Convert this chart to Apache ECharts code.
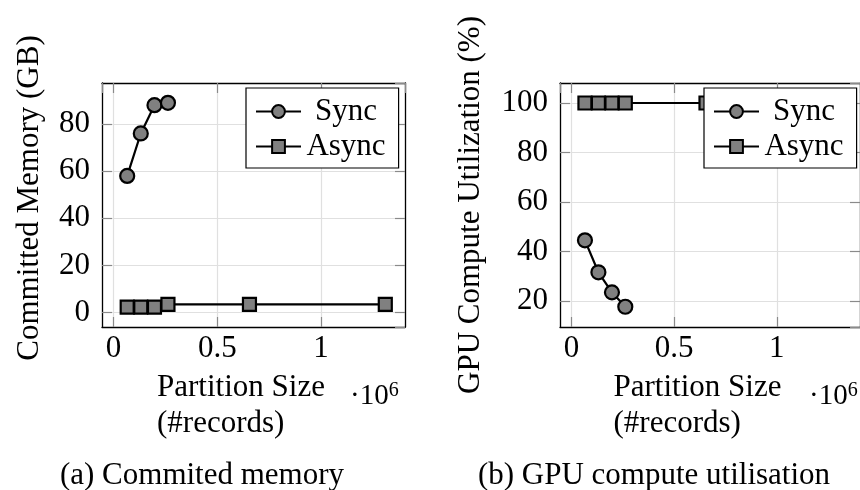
<!DOCTYPE html>
<html>
<head>
<meta charset="utf-8">
<script src="https://cdn.jsdelivr.net/npm/echarts@6/dist/echarts.min.js"></script>
<style>
  html, body { margin: 0; padding: 0; background: #fff; }
  #chart { width: 860px; height: 490px; }
</style>
</head>
<body>
<div id="chart"></div>
<script>
// Partition size, in units of 10^6 records
const partitionSizes = [0.0655, 0.131, 0.197, 0.262, 0.655, 1.31];
const seriesNames = ['Sync', 'Async'];
// (a) Committed memory (GB)
const memSync = [58, 76, 88, 89];
const memAsync = [2.4, 2.4, 2.4, 3.5, 3.5, 3.5];
// (b) GPU compute utilisation (%)
const gpuSync = [44.6, 31.7, 23.6, 17.8];
const gpuAsync = [100, 100, 100, 100, 100, 100];
const captions = ['(a) Commited memory', '(b) GPU compute utilisation'];
const yTitles = ['Committed Memory (GB)', 'GPU Compute Utilization (%)'];
const xTitleLines = ['Partition Size', '(#records)'];

const FONT = '"Liberation Serif", "Times New Roman", serif';
const FS = 31;

function pairs(xs, ys) { return ys.map((y, i) => [xs[i], y]); }

const grids = [
  { left: 102, top: 83, width: 303, height: 244 },
  { left: 560, top: 83, width: 303, height: 244 }
];
const xRange = [[-0.056, 1.405], [-0.056, 1.405]];
const yRange = [[-6.07, 97.4], [9.63, 108.07]];
const yNameGap = [57, 74];
const yNamePad = [[0, 0, 0, 14], [0, 0, 0, 0]];

const tickStyle = { show: true, inside: true, length: 10, lineStyle: { color: '#8a8a8a', width: 1.2 } };
const axisLineStyle = { show: true, onZero: false, lineStyle: { color: '#000', width: 1.3 } };
const splitStyle = { show: true, lineStyle: { color: '#e0e0e0', width: 1.2 } };

const xAxes = [], yAxes = [];
grids.forEach((g, i) => {
  xAxes.push({
    gridIndex: i, type: 'value', position: 'bottom',
    min: xRange[i][0], max: xRange[i][1], minInterval: 0.5, maxInterval: 0.5,
    axisLine: axisLineStyle, axisTick: tickStyle, splitLine: splitStyle,
    axisLabel: { showMinLabel: false, showMaxLabel: false, margin: 6,
      fontFamily: FONT, fontSize: FS, color: '#000' },
    name: '{a|' + xTitleLines[0] + '}\n{a|' + xTitleLines[1] + '}',
    nameLocation: 'middle', nameGap: 43,
    nameTextStyle: { fontFamily: FONT, fontSize: FS, color: '#000', lineHeight: 36,
      rich: { a: { width: 193, align: 'left', fontFamily: FONT, fontSize: FS, lineHeight: 36, color: '#000' } } }
  });
  xAxes.push({
    gridIndex: i, type: 'value', position: 'top',
    min: xRange[i][0], max: xRange[i][1], minInterval: 0.5, maxInterval: 0.5,
    axisLine: axisLineStyle, axisTick: tickStyle, splitLine: { show: false },
    axisLabel: { show: false }
  });
  yAxes.push({
    gridIndex: i, type: 'value', position: 'left',
    min: yRange[i][0], max: yRange[i][1], minInterval: 20, maxInterval: 20,
    axisLine: axisLineStyle, axisTick: tickStyle, splitLine: splitStyle,
    axisLabel: { showMinLabel: false, showMaxLabel: false, margin: 12,
      fontFamily: FONT, fontSize: FS, color: '#000' },
    name: yTitles[i], nameLocation: 'middle', nameRotate: 90, nameGap: yNameGap[i],
    nameTextStyle: { fontFamily: FONT, fontSize: FS, color: '#000', padding: yNamePad[i] }
  });
  yAxes.push({
    gridIndex: i, type: 'value', position: 'right',
    min: yRange[i][0], max: yRange[i][1], minInterval: 20, maxInterval: 20,
    axisLine: axisLineStyle, axisTick: tickStyle, splitLine: { show: false },
    axisLabel: { show: false }
  });
});

function mkSeries(name, data, gi, symbol, size) {
  return {
    name: name, type: 'line', data: data,
    xAxisIndex: gi * 2, yAxisIndex: gi * 2,
    symbol: symbol, symbolSize: size,
    lineStyle: { color: '#000', width: 2.2 },
    itemStyle: { color: '#808080', borderColor: '#000', borderWidth: 2.2 },
    emphasis: { disabled: true },
    animation: false, z: 3
  };
}

const series = [
  mkSeries(seriesNames[0], pairs(partitionSizes, memSync), 0, 'circle', 14),
  mkSeries(seriesNames[1], pairs(partitionSizes, memAsync), 0, 'rect', 13),
  mkSeries(seriesNames[0], pairs(partitionSizes, gpuSync), 1, 'circle', 14),
  mkSeries(seriesNames[1], pairs(partitionSizes, gpuAsync), 1, 'rect', 13)
];

function mkLegend(left) {
  return {
    left: left, top: 88, orient: 'vertical',
    data: seriesNames,
    itemWidth: 45, itemHeight: 16, itemGap: 4,
    padding: [8, 13, 6, 9],
    backgroundColor: '#fff', borderColor: '#000', borderWidth: 1.2,
    selectedMode: false,
    formatter: n => '{t|' + n + '}',
    textStyle: { fontFamily: FONT, fontSize: FS, color: '#000',
      rich: { t: { width: 80, align: 'center', fontFamily: FONT, fontSize: FS, color: '#000' } } }
  };
}

function scaleLabel(left) {
  return { type: 'text', left: left, top: 381,
    style: { text: '{a|·10}{b|6}', rich: {
      a: { fontFamily: FONT, fontSize: 29, color: '#000', verticalAlign: 'bottom' },
      b: { fontFamily: FONT, fontSize: 20, color: '#000', verticalAlign: 'top', padding: [0, 0, 10, 0] } } } };
}

const option = {
  backgroundColor: '#fff',
  animation: false,
  textStyle: { fontFamily: FONT },
  grid: grids,
  xAxis: xAxes,
  yAxis: yAxes,
  legend: [mkLegend(246), mkLegend(704)],
  title: [
    { text: captions[0], left: 202, top: 459, textAlign: 'center', padding: 0,
      textStyle: { fontFamily: FONT, fontSize: FS, fontWeight: 'normal', color: '#000', lineHeight: 34 } },
    { text: captions[1], left: 654, top: 459, textAlign: 'center', padding: 0,
      textStyle: { fontFamily: FONT, fontSize: FS, fontWeight: 'normal', color: '#000', lineHeight: 34 } }
  ],
  graphic: [scaleLabel(350), scaleLabel(809)],
  series: series
};

const chart = echarts.init(document.getElementById('chart'), null, { renderer: 'canvas' });
chart.setOption(option);
</script>
</body>
</html>
